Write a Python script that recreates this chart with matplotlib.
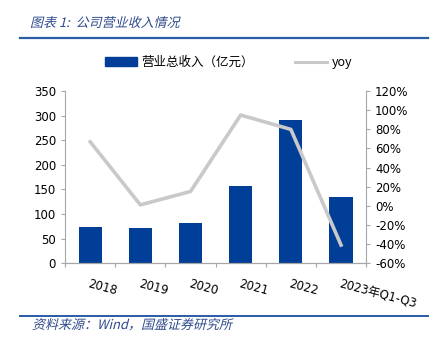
import matplotlib.pyplot as plt
import numpy as np
from matplotlib.patches import Rectangle, PathPatch
from matplotlib.lines import Line2D
from matplotlib.textpath import TextPath
from matplotlib.font_manager import FontProperties
from matplotlib.transforms import Affine2D
from matplotlib.ticker import FuncFormatter

plt.rcParams['font.family'] = ['DejaVu Sans', 'Noto Sans CJK SC']

years = ['2018', '2019', '2020', '2021', '2022', '2023年Q1-Q3']
revenue = [74, 72, 82, 158, 291, 134]
yoy = [67, 1, 15, 95, 80, -41]

bar_color = '#003E98'
line_color = '#C9C9C9'
blue = '#2A5BA5'
text_blue = '#2F4B8C'

W, H = 440, 344
fig = plt.figure(figsize=(W / 100, H / 100), dpi=100)
ax = fig.add_axes([0.148, 0.235, 0.684, 0.50])
x = np.arange(len(years))

ax.bar(x, revenue, width=0.46, color=bar_color, zorder=2)
ax.set_ylim(0, 350)
ax.set_yticks(range(0, 351, 50))
ax.set_xlim(-0.5, len(years) - 0.5)

ax2 = ax.twinx()
ax2.plot(x, yoy, color=line_color, lw=2.6, zorder=3)
ax2.set_ylim(-60, 120)
ax2.set_yticks(range(-60, 121, 20))
ax2.yaxis.set_major_formatter(FuncFormatter(lambda v, p: f'{v:.0f}%'))

for a in (ax, ax2):
    a.spines['top'].set_visible(False)
    for s in a.spines.values():
        s.set_color('#A6A6A6')
        s.set_linewidth(0.8)
    a.tick_params(axis='y', colors='#A6A6A6', labelcolor='black',
                  labelsize=8.5, length=3, width=0.8)
ax.spines['right'].set_visible(False)
ax2.spines['left'].set_visible(False)

# category labels start at the bar centre and slope down to the right
ax.set_xticks(x)
ax.set_xticklabels(years, rotation=-15, ha='left', rotation_mode='anchor',
                   fontsize=8.5)
ax.tick_params(axis='x', length=0, pad=10)
ax.set_xticks(np.arange(-0.5, len(years), 1), minor=True)
ax.tick_params(axis='x', which='minor', length=3, color='#A6A6A6', width=0.8)

# legend
handles = [Rectangle((0, 0), 1, 1, color=bar_color),
           Line2D([0], [0], color=line_color, lw=2.2)]
fig.legend(handles, ['营业总收入（亿元）', 'yoy'], loc='center',
           bbox_to_anchor=(0.52, 0.818), ncol=2, frameon=False,
           handlelength=2.55, columnspacing=3.3, handletextpad=0.4,
           prop={'family': ['Noto Sans CJK SC', 'DejaVu Sans'], 'size': 9})


def slanted_text(s, x_px, y_px, size):
    # draw text as a sheared path so the CJK glyphs lean like italics
    tp = TextPath((0, 0), s, size=size,
                  prop=FontProperties(family='Noto Sans CJK SC'))
    tr = Affine2D().skew_deg(14, 0).translate(x_px, y_px)
    fig.add_artist(PathPatch(tp, transform=tr, color=text_blue, lw=0))


# header and footer
slanted_text('图表 1:  公司营业收入情况', 30, H - 27, 13)
fig.add_artist(Line2D([0.045, 0.973], [0.890, 0.890], color=blue, lw=1.6))
fig.add_artist(Line2D([0.045, 0.973], [1 - 316 / H, 1 - 316 / H],
                      color=blue, lw=1.4))
slanted_text('资料来源：Wind，国盛证券研究所', 32, H - 329, 13)

fig.savefig('out.png', dpi=100)
